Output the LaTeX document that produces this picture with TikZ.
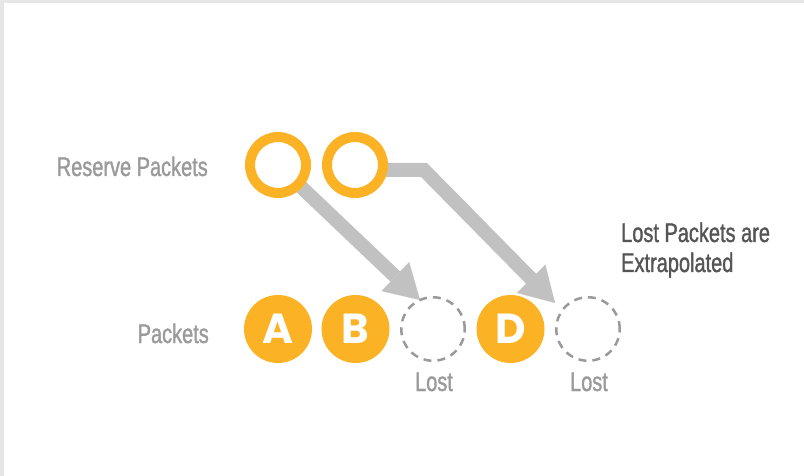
\documentclass[tikz,border=0pt]{standalone}
\usepackage{fontspec}
\setmainfont{Liberation Sans}
\newfontfamily\labelfont[FakeStretch=0.74, FakeBold=1.2]{Liberation Sans}
\newfontfamily\letterfont{Poppins}
\usetikzlibrary{arrows.meta}
\pgfdeclarelayer{back}
\pgfsetlayers{back,main}
\definecolor{packetorange}{HTML}{FBB224}
\definecolor{arrowgray}{HTML}{C1C1C1}
\definecolor{slotgray}{HTML}{9A9A9A}
\definecolor{labelgray}{HTML}{9A9A9A}
\definecolor{notegray}{HTML}{555555}
\definecolor{framegray}{HTML}{E6E6E6}
\tikzset{
  ring/.style={circle, draw=packetorange, line width=10pt, fill=white,
    minimum size=56pt, inner sep=0pt, outer sep=0pt},
  packet/.style={circle, fill=packetorange, minimum size=68pt, inner sep=0pt,
    text=white, font=\letterfont\bfseries\fontsize{42}{42}\selectfont,
    text height=29pt, text depth=0pt},
  lostslot/.style={circle, draw=slotgray, dash pattern=on 8pt off 6pt,
    line width=2.5pt, minimum size=63.5pt, inner sep=0pt},
  transfer/.style={draw=arrowgray, line width=14pt, line join=miter,
    -{Triangle[length=34pt, width=40pt, line width=0.1pt]}},
  sidelabel/.style={inner sep=0pt, text=labelgray,
    font=\labelfont\fontsize{27}{30}\selectfont},
  notelabel/.style={inner sep=0pt, text=notegray,
    font=\labelfont\fontsize{27}{30}\selectfont},
}
\begin{document}
\begin{tikzpicture}[x=1pt, y=-1pt]
  \useasboundingbox (0,0) rectangle (804,476);
  \begin{pgfonlayer}{back}
    \fill[framegray] (0,0) rectangle (804,476);
    \fill[white] (4,3) rectangle (804,476);
  \end{pgfonlayer}

  % reserve packets
  \node[ring] (r1) at (278,165) {};
  \node[ring] (r2) at (355,165) {};

  % packet stream with gaps
  \node[packet]   (pa) at (278,329)   {A};
  \node[packet]   (pb) at (355.5,329) {B};
  \node[lostslot] (l1) at (433,329)   {};
  \node[packet]   (pd) at (510.5,329) {D};
  \node[lostslot] (l2) at (588,329)   {};

  % labels
  \node[sidelabel, anchor=base east] (reslabel) at (208,176) {Reserve Packets};
  \node[sidelabel, anchor=base east] (pktlabel) at (209,343) {Packets};
  \node[sidelabel, anchor=base] (lost1) at (434,391) {Lost};
  \node[sidelabel, anchor=base] (lost2) at (589,391) {Lost};
  \node[notelabel, anchor=base west] (note1) at (621,242) {Lost Packets are};
  \node[notelabel, anchor=base west] (note2) at (621,272) {Extrapolated};

  % reserve packets fill the gaps
  \coordinate (t1) at (420,300);
  \coordinate (bend) at (424,170);
  \coordinate (t2) at (555,303);
  \begin{pgfonlayer}{back}
    \draw[transfer] (r1.center) -- (t1);
    \draw[transfer] ([yshift=-5pt]r2.center) -- (bend) -- (t2);
  \end{pgfonlayer}
\end{tikzpicture}
\end{document}
